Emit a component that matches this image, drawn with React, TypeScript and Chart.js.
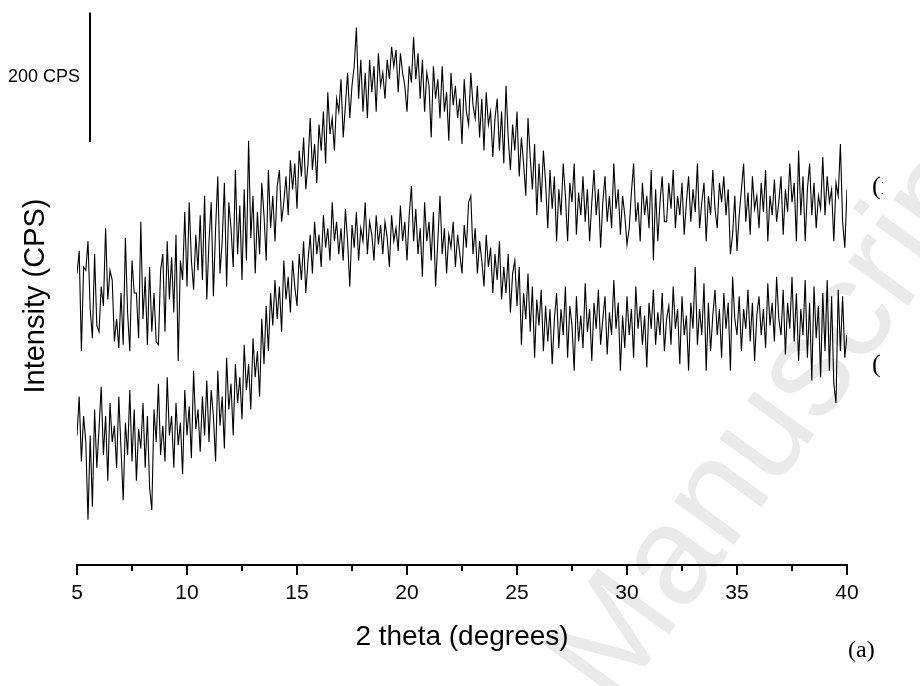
import { useEffect, useRef } from "react";
import { Chart, registerables } from "chart.js";

Chart.register(...registerables);

// 2-theta scan: 5.0° to 40.0° in 0.1° steps
const THETA_START = 5;
const THETA_STEP = 0.1;

// Pattern (i), upper trace, stacked intensity in CPS
const patternI = [
  450, 485, 330, 460, 455, 500, 395, 350, 480, 370,
  360, 430, 400, 520, 410, 455, 440, 345, 380, 335,
  420, 340, 505, 390, 330, 470, 420, 420, 350, 530,
  380, 445, 340, 460, 360, 420, 345, 340, 455, 480,
  360, 500, 410, 475, 390, 510, 315, 470, 440, 545,
  430, 560, 470, 425, 510, 455, 540, 440, 570, 410,
  500, 560, 415, 520, 600, 450, 500, 590, 430, 560,
  520, 460, 610, 480, 555, 440, 580, 470, 655, 505,
  570, 450, 545, 480, 590, 540, 470, 610, 520, 570,
  500, 585, 610, 530, 560, 600, 540, 625, 580, 620,
  550, 640, 600, 660, 580, 620, 690, 610, 650, 590,
  680, 640, 700, 620, 730, 665, 690, 640, 720, 700,
  750, 660, 710, 760, 690, 740, 770, 830, 720, 780,
  700, 760, 690, 780, 730, 770, 700, 790, 740, 760,
  720, 780, 750, 800, 770, 795, 730, 790, 760, 740,
  700, 770, 745, 815, 750, 790, 720, 780, 700, 760,
  740, 660, 770, 720, 750, 690, 770, 700, 730, 655,
  760, 710, 740, 690, 720, 650, 750, 700, 680, 760,
  710, 690, 740, 660, 720, 640, 730, 680, 700, 630,
  690, 720, 640, 700, 620, 740, 660, 610, 680, 640,
  700, 600, 660, 620, 570, 690, 630, 580, 650, 540,
  620, 560, 640, 590, 520, 610, 550, 600, 500, 580,
  540, 620, 570, 500, 590, 560, 620, 510, 575, 540,
  600, 530, 580, 500, 560, 610, 540, 580, 490, 560,
  600, 530, 570, 520, 620, 550, 580, 510, 570, 540,
  495, 520, 575, 620, 530, 560, 500, 590, 540, 570,
  520, 610, 470, 580, 500, 560, 600, 530, 530, 590,
  550, 610, 520, 570, 540, 590, 510, 560, 600, 530,
  580, 545, 620, 520, 560, 590, 500, 570, 540, 610,
  550, 520, 590, 560, 600, 540, 580, 480, 510, 570,
  485, 540, 580, 620, 530, 575, 510, 600, 550, 570,
  520, 590, 545, 610, 500, 570, 540, 595, 530, 560,
  600, 510, 580, 545, 620, 560, 590, 500, 640, 540,
  600, 500, 580, 620, 540, 590, 520, 570, 550, 630,
  540, 600, 560, 580, 500, 590, 570, 650, 530, 490,
  580,
];

// Pattern (ii), lower trace, intensity in CPS
const patternII = [
  200, 260, 160, 230, 190, 70, 200, 90, 240, 150,
  210, 275, 170, 230, 130, 250, 190, 215, 150, 260,
  180, 100, 220, 170, 270, 160, 240, 130, 210, 180,
  250, 150, 230, 120, 85, 240, 190, 280, 170, 215,
  160, 290, 200, 230, 150, 250, 185, 220, 140, 270,
  200, 245, 165, 300, 210, 240, 175, 260, 200, 285,
  190, 270, 230, 160, 300, 215, 260, 180, 320, 240,
  280, 200, 310, 250, 290, 225, 340, 270, 310, 240,
  350, 290, 330, 260, 380, 310, 400, 330, 420, 370,
  440, 380, 430, 360, 470, 410, 445, 390, 470, 430,
  400, 480, 440, 500, 420, 470, 510, 450, 530, 480,
  510, 460, 540, 490, 520, 470, 560, 500, 530, 480,
  520, 470, 550, 500, 430, 525, 490, 545, 470, 520,
  500, 560, 480, 530, 510, 470, 540, 495, 525, 480,
  530, 505, 460, 540, 500, 520, 485, 555, 500, 530,
  470, 540, 585, 500, 550, 480, 520, 445, 560, 500,
  530, 470, 545, 430, 500, 570, 480, 520, 450, 510,
  490, 530, 460, 510, 480, 450, 525, 490, 560, 570,
  480, 520, 450, 500, 470, 430, 510, 460, 490, 420,
  480, 440, 500, 410, 460, 420, 480, 390, 450, 470,
  400, 460, 340, 420, 380, 450, 360, 430, 320, 410,
  370, 425, 330, 400, 345, 395, 310, 380, 420, 335,
  395, 355, 430, 320, 400, 370, 300, 415, 345, 385,
  335, 435, 360, 395, 315, 405, 365, 425, 340, 380,
  415, 325, 390, 355, 440, 365, 405, 300, 385, 335,
  415, 355, 395, 320, 430, 365, 400, 340, 385, 305,
  405, 365, 425, 340, 390, 355, 420, 330, 380, 400,
  340, 430, 365, 395, 310, 415, 355, 385, 300, 405,
  365, 460, 340, 395, 355, 435, 300, 405, 330, 385,
  425, 355, 395, 320, 420, 365, 405, 300, 445, 380,
  355, 415, 330, 395, 365, 425, 345, 405, 315, 385,
  415, 355, 395, 335, 435, 370, 405, 345, 445, 380,
  355, 425, 325, 405, 365, 445, 345, 420, 315, 395,
  355, 440, 320, 405, 285, 430, 350, 400, 290, 420,
  330, 440, 300, 415, 280, 250, 425, 330, 415, 320,
  355,
];

const majorTicks = [5, 10, 15, 20, 25, 30, 35, 40];
const minorTicks = [7.5, 12.5, 17.5, 22.5, 27.5, 32.5, 37.5];

// Vertical intensity scale bar
const scaleBarCps = 200;
const scaleBarBase = 653;
const scaleBarLabel = "200 CPS";

const traceLabels = ["(i", "("];
const panelLabel = "(a)";
const watermarkText = "Manuscript";

const toPoints = (values: number[]) =>
  values.map((v, i) => ({ x: +(THETA_START + i * THETA_STEP).toFixed(2), y: v }));

const SANS = "'Liberation Sans', Arial, sans-serif";
const SERIF = "'Liberation Serif', 'Times New Roman', serif";

const decorations = {
  id: "decorations",
  beforeDraw(chart: any) {
    const { ctx } = chart;
    // faint diagonal watermark behind everything
    ctx.save();
    ctx.translate(614, 710);
    ctx.rotate((-54 * Math.PI) / 180);
    ctx.fillStyle = "#eaeaea";
    ctx.font = `140px ${SANS}`;
    ctx.textBaseline = "alphabetic";
    ctx.textAlign = "left";
    ctx.fillText(watermarkText, 0, 0);
    ctx.restore();
  },
  afterDraw(chart: any) {
    const { ctx, chartArea, scales } = chart;
    const x = scales.x;
    const y = scales.y;
    ctx.save();
    ctx.strokeStyle = "#000";
    ctx.lineWidth = 2;
    // minor ticks below the axis line
    minorTicks.forEach((v) => {
      const px = Math.round(x.getPixelForValue(v));
      ctx.beginPath();
      ctx.moveTo(px, chartArea.bottom);
      ctx.lineTo(px, chartArea.bottom + 6);
      ctx.stroke();
    });

    // scale bar
    const barX = 90;
    const yTop = y.getPixelForValue(scaleBarBase + scaleBarCps);
    const yBot = y.getPixelForValue(scaleBarBase);
    ctx.beginPath();
    ctx.moveTo(barX, yTop);
    ctx.lineTo(barX, yBot);
    ctx.stroke();
    ctx.fillStyle = "#000";
    ctx.font = `18px ${SANS}`;
    ctx.textAlign = "right";
    ctx.textBaseline = "middle";
    ctx.fillText(scaleBarLabel, 80, (yTop + yBot) / 2);

    // y-axis title
    ctx.save();
    ctx.translate(36, 296);
    ctx.rotate(-Math.PI / 2);
    ctx.font = `29px ${SANS}`;
    ctx.textAlign = "center";
    ctx.textBaseline = "middle";
    ctx.fillText("Intensity (CPS)", 0, 0);
    ctx.restore();

    // trace labels, cut at the right edge of the figure
    ctx.save();
    ctx.beginPath();
    ctx.rect(0, 0, 883, 686);
    ctx.clip();
    ctx.font = `26px ${SERIF}`;
    ctx.textAlign = "left";
    ctx.textBaseline = "middle";
    ctx.fillText(traceLabels[0], 872, 187);
    ctx.fillText(traceLabels[1], 872, 365);
    ctx.restore();

    // panel label
    ctx.font = `24px ${SERIF}`;
    ctx.textAlign = "left";
    ctx.textBaseline = "middle";
    ctx.fillText(panelLabel, 848, 651);
    ctx.restore();
  },
};

export default function App() {
  const canvasRef = useRef<HTMLCanvasElement | null>(null);

  useEffect(() => {
    const canvas = canvasRef.current;
    if (!canvas) return;
    const chart = new Chart(canvas, {
      type: "line",
      data: {
        datasets: [
          {
            label: "(i)",
            data: toPoints(patternI),
            borderColor: "#000",
            borderWidth: 1.1,
            pointRadius: 0,
            tension: 0,
            fill: false,
          },
          {
            label: "(ii)",
            data: toPoints(patternII),
            borderColor: "#000",
            borderWidth: 1.1,
            pointRadius: 0,
            tension: 0,
            fill: false,
          },
        ],
      },
      options: {
        animation: false,
        responsive: true,
        maintainAspectRatio: false,
        parsing: false,
        normalized: true,
        events: [],
        layout: { padding: { left: 77, right: 73, top: 8, bottom: 0 } },
        plugins: {
          legend: { display: false },
          tooltip: { enabled: false },
          title: { display: false },
        },
        scales: {
          x: {
            type: "linear",
            min: 5,
            max: 40,
            afterFit: (scale: any) => {
              scale.height = 121;
            },
            afterBuildTicks: (scale: any) => {
              scale.ticks = majorTicks.map((v) => ({ value: v }));
            },
            ticks: {
              color: "#000",
              font: { family: SANS, size: 21 },
              padding: 6,
              maxRotation: 0,
            },
            grid: {
              display: true,
              drawOnChartArea: false,
              drawTicks: true,
              tickLength: 10,
              color: "#000",
              lineWidth: 2,
            },
            border: { display: true, color: "#000", width: 2 },
            title: {
              display: true,
              text: "2 theta (degrees)",
              color: "#000",
              font: { family: SANS, size: 28 },
              padding: { top: 0, bottom: 32 },
            },
          },
          y: {
            type: "linear",
            min: 0,
            max: 860,
            display: false,
          },
        },
      },
      plugins: [decorations],
    });
    return () => chart.destroy();
  }, []);

  return (
    <div
      style={{
        position: "fixed",
        left: 0,
        top: 0,
        width: 920,
        height: 686,
        background: "#fff",
        overflow: "hidden",
      }}
    >
      <canvas ref={canvasRef} />
    </div>
  );
}
